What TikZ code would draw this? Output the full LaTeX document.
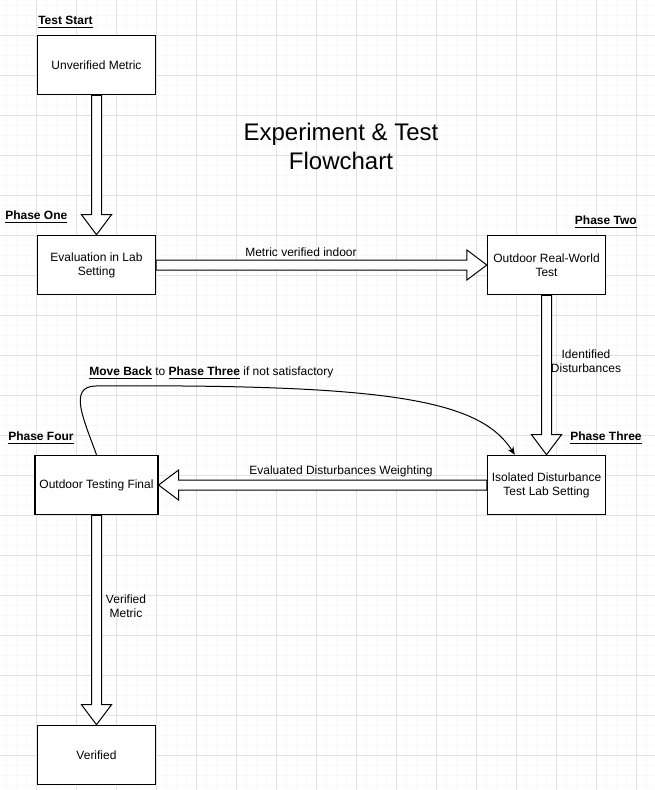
\documentclass[tikz,border=0pt]{standalone}
\usepackage{fontspec}
\setmainfont{Liberation Sans}
\usepackage{tikz}
\usetikzlibrary{arrows.meta,calc}

% block arrows between boxes
\newcommand{\flexdown}[2]{%
  \draw[flex] ($(#1.south)+(-5,0)$) -- ($(#2.north)+(-5,-20)$) -- ($(#2.north)+(-15,-20)$)
    -- (#2.north) -- ($(#2.north)+(15,-20)$) -- ($(#2.north)+(5,-20)$) -- ($(#1.south)+(5,0)$) -- cycle;}
\newcommand{\flexright}[2]{%
  \draw[flex] ($(#1.east)+(0,-5)$) -- ($(#2.west)+(-20,-5)$) -- ($(#2.west)+(-20,-15)$)
    -- (#2.west) -- ($(#2.west)+(-20,15)$) -- ($(#2.west)+(-20,5)$) -- ($(#1.east)+(0,5)$) -- cycle;}
\newcommand{\flexleft}[2]{%
  \draw[flex] ($(#1.west)+(0,-5)$) -- ($(#2.east)+(20,-5)$) -- ($(#2.east)+(20,-15)$)
    -- (#2.east) -- ($(#2.east)+(20,15)$) -- ($(#2.east)+(20,5)$) -- ($(#1.west)+(0,5)$) -- cycle;}

\begin{document}
\begin{tikzpicture}[x=0.75pt,y=-0.75pt,
    box/.style={draw,line width=0.9pt,fill=white,minimum width=88.5pt,minimum height=44.5pt,
      align=center,font=\fontsize{9}{10.5}\selectfont},
    phase/.style={inner sep=0pt,font=\fontsize{9}{10.5}\selectfont\bfseries},
    note/.style={align=center,inner sep=0pt,font=\fontsize{9}{10.5}\selectfont},
    flex/.style={draw,line width=0.75pt,fill=white,line join=miter},
    minorgrid/.style={gray!5,line width=0.5pt},
    majorgrid/.style={gray!22,line width=0.5pt}]
    \useasboundingbox[fill=white] (0,0) rectangle (655,790);
    % grid
    \foreach \gx in {6,16,...,646} \draw[minorgrid] (\gx,0) -- (\gx,790);
    \foreach \gy in {5,15,...,785} \draw[minorgrid] (0,\gy) -- (655,\gy);
    \foreach \gx in {36,76,...,636} \draw[majorgrid] (\gx,0) -- (\gx,790);
    \foreach \gy in {35,75,...,755} \draw[majorgrid] (0,\gy) -- (655,\gy);

    \node[align=center,font=\fontsize{18}{21.75}\selectfont] (title) at (341,146) {Experiment \& Test\\Flowchart};

    \node[box] (start) at (96.5,65) {Unverified Metric};
    \node[box] (lab) at (96.5,265) {Evaluation in Lab\\Setting};
    \node[box] (outdoor) at (546.5,265) {Outdoor Real-World\\Test};
    \node[box] (isol) at (546.5,485) {Isolated Disturbance\\Test Lab Setting};
    \node[box] (final) at (96.5,485) {Outdoor Testing Final};
    \node[box] (done) at (96.5,755) {Verified};

    \node[phase,anchor=west] (ph0) at (38,22) {\underline{Test Start}};
    \node[phase,anchor=west] (ph1) at (5,217) {\underline{Phase One}};
    \node[phase,anchor=east] (ph2) at (637,222) {\underline{Phase Two}};
    \node[phase,anchor=west] (ph3) at (570,438) {\underline{Phase Three}};
    \node[phase,anchor=west] (ph4) at (8,438) {\underline{Phase Four}};

    \flexdown{start}{lab}
    \flexright{lab}{outdoor}
    \flexdown{outdoor}{isol}
    \flexleft{isol}{final}
    \flexdown{final}{done}

    \node[note] (l1) at (301,252) {Metric verified indoor};
    \node[note] (l2) at (586,361) {Identified\\Disturbances};
    \node[note] (l3) at (341,471) {Evaluated Disturbances Weighting};
    \node[note] (l4) at (126,606) {Verified\\Metric};
    \node[note,anchor=west] (l5) at (89,373) {\textbf{\underline{Move Back}} to \textbf{\underline{Phase Three}} if not satisfactory};

    \draw[line width=0.75pt,-{Stealth[length=6pt,width=5pt]}] (final.north)
      .. controls (84,420) and (68,387) .. (95,386)
      .. controls (390,384) and (480,400) .. ($(isol.north west)+(28,0)$);
\end{tikzpicture}
\end{document}
